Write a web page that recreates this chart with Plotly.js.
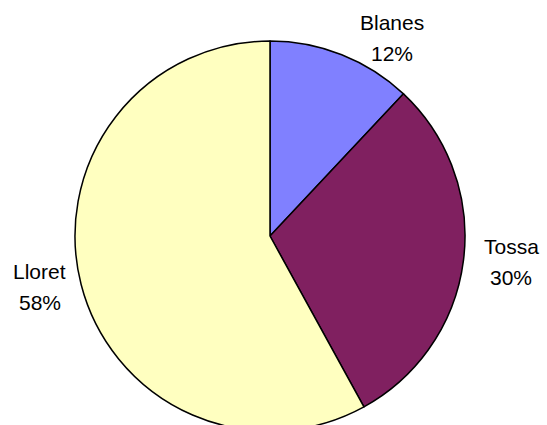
<!DOCTYPE html>
<html>
<head>
<meta charset="utf-8">
<script src="https://cdn.plot.ly/plotly-3.0.1.min.js"></script>
<style>
  html, body { margin: 0; padding: 0; background: #fff; overflow: hidden; }
  #chart { width: 547px; height: 440px; }
</style>
</head>
<body>
<div id="chart"></div>
<script>
// Share of visitors by town
var towns = ['Blanes', 'Tossa', 'Lloret'];
var shares = [12, 30, 58];
var sliceColors = ['#8080FF', '#802060', '#FFFFC0'];

// Figure geometry (pixels)
var W = 547, H = 440;
var cx = 270, cy = 236, R = 195;
var labelRadius = 1.22;       // label distance, as a multiple of R
var labelNudge = [[34, 23], [5, -4], [0, -8]];   // per-label pixel nudges
var lineGap = 15.5;           // half the distance between the two label lines

var total = shares.reduce(function (a, b) { return a + b; }, 0);
var annotations = [];
var start = 0;
shares.forEach(function (v, i) {
  var frac = v / total;
  var mid = (start + frac / 2) * 2 * Math.PI;   // clockwise from 12 o'clock
  start += frac;
  var px = cx + Math.sin(mid) * R * labelRadius + labelNudge[i][0];
  var py = cy - Math.cos(mid) * R * labelRadius + labelNudge[i][1];
  var common = {
    xref: 'paper', yref: 'paper',
    x: px / W, y: 1 - py / H,
    xanchor: 'center', yanchor: 'middle',
    showarrow: false,
    font: { family: 'Liberation Sans, Arial, sans-serif', size: 21, color: '#000' }
  };
  annotations.push(Object.assign({}, common, { text: towns[i], yshift: lineGap }));
  annotations.push(Object.assign({}, common, { text: Math.round(frac * 100) + '%', yshift: -lineGap }));
});

var trace = {
  type: 'pie',
  labels: towns,
  values: shares,
  sort: false,
  direction: 'clockwise',
  rotation: 0,
  textinfo: 'none',
  hoverinfo: 'skip',
  marker: { colors: sliceColors, line: { color: '#000', width: 1.5 } },
  domain: {
    x: [(cx - R) / W, (cx + R) / W],
    y: [1 - (cy + R) / H, 1 - (cy - R) / H]
  }
};

var layout = {
  width: W, height: H,
  margin: { l: 0, r: 0, t: 0, b: 0 },
  showlegend: false,
  paper_bgcolor: '#fff',
  annotations: annotations
};

Plotly.newPlot('chart', [trace], layout, { staticPlot: true, displayModeBar: false });
</script>
</body>
</html>
